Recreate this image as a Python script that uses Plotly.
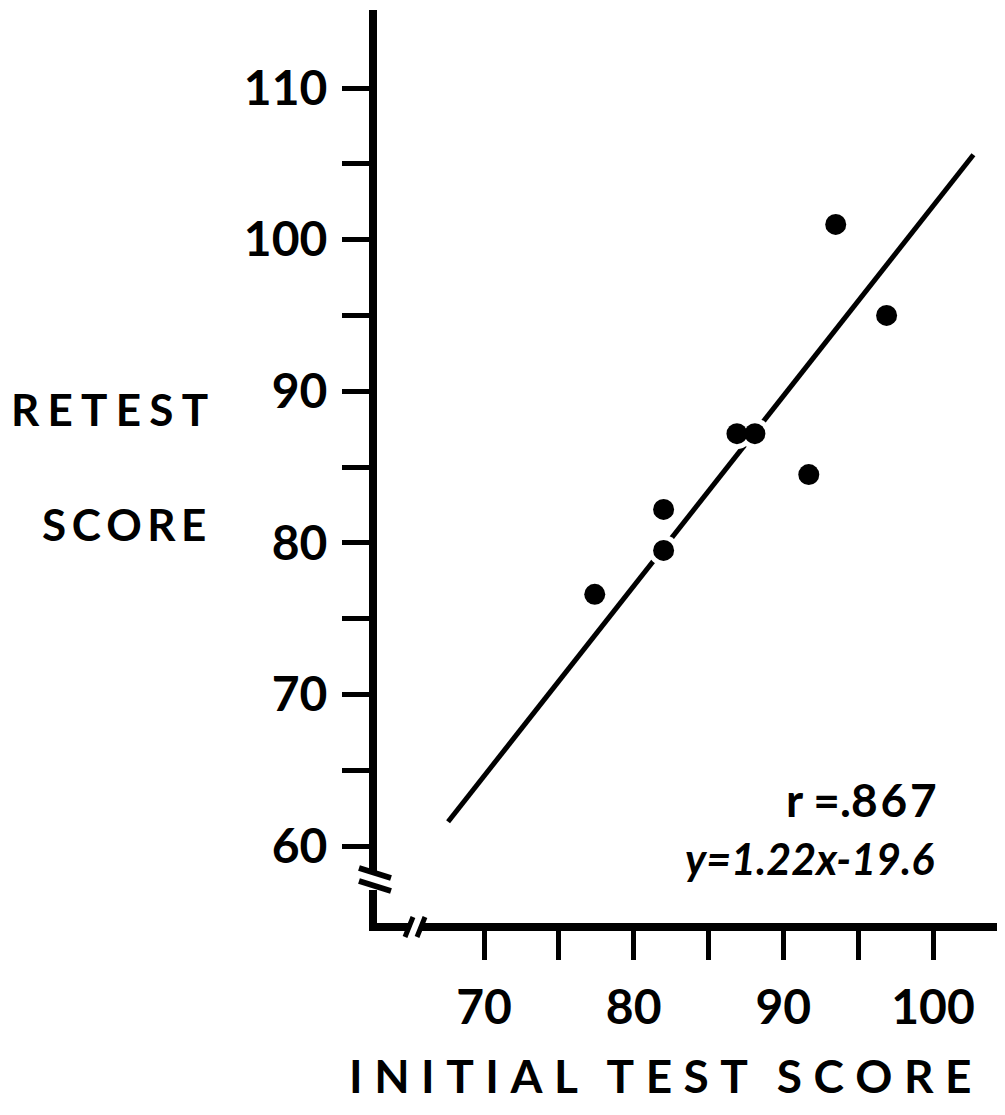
import plotly.graph_objects as go

# ---- data ----
initial_score = [77.4, 82.0, 82.0, 86.9, 88.1, 91.7, 93.5, 96.9]
retest_score = [76.6, 82.2, 79.5, 87.2, 87.2, 84.5, 101.0, 95.0]
fit_x = [67.6, 102.7]
fit_y = [61.6, 105.6]
x_tick_vals = [70, 75, 80, 85, 90, 95, 100]
x_tick_text = ["70", "", "80", "", "90", "", "100"]
y_tick_vals = [60, 65, 70, 75, 80, 85, 90, 95, 100, 105, 110]
y_tick_text = ["60", "", "70", "", "80", "", "90", "", "100", "", "110"]

W, H = 1005, 1115
L, R, T, B = 365, 1005, 2, 919  # plot area in pixels


def px(x):
    return (x - L) / (R - L)


def py(y):
    return (B - y) / (B - T)


FONT = "Lato"
INK = "black"
HS = "\u200a"  # hair space
TS = "\u2009"  # thin space

fig = go.Figure()
fig.add_trace(go.Scatter(x=fit_x, y=fit_y, mode="lines",
                         line=dict(color=INK, width=5), hoverinfo="skip"))
# white halo so the fitted line appears broken around the dots
fig.add_trace(go.Scatter(x=initial_score, y=retest_score, mode="markers",
                         marker=dict(size=31, color="white", line=dict(width=0)),
                         hoverinfo="skip"))
fig.add_trace(go.Scatter(x=initial_score, y=retest_score, mode="markers",
                         marker=dict(size=21, color=INK, line=dict(width=0))))

shapes = []
lw = 8
# y axis with break
shapes.append(dict(type="line", xref="paper", yref="paper", x0=0, x1=0,
                   y0=py(T), y1=py(863), line=dict(color=INK, width=lw)))
shapes.append(dict(type="line", xref="paper", yref="paper", x0=0, x1=0,
                   y0=py(882), y1=py(B + 4), line=dict(color=INK, width=lw)))
for yy in (860, 873):
    shapes.append(dict(type="line", xref="paper", yref="paper",
                       x0=px(L - 14), x1=px(L + 18), y0=py(yy), y1=py(yy + 10),
                       line=dict(color=INK, width=6)))
# x axis with break
shapes.append(dict(type="line", xref="paper", yref="paper", x0=px(L - 4), x1=px(401),
                   y0=0, y1=0, line=dict(color=INK, width=lw)))
shapes.append(dict(type="line", xref="paper", yref="paper", x0=px(413), x1=1,
                   y0=0, y1=0, line=dict(color=INK, width=lw)))
for xx in (397, 409):
    shapes.append(dict(type="line", xref="paper", yref="paper",
                       x0=px(xx), x1=px(xx + 8), y0=py(B + 10), y1=py(B - 10),
                       line=dict(color=INK, width=5)))

annotations = [
    dict(text=(TS + HS).join("RETEST"), x=px(101), y=py(401), font=dict(size=44)),
    dict(text=TS.join("SCORE"), x=px(116), y=py(516), font=dict(size=44)),
    dict(text=("\u2002" + TS).join((TS + HS + HS).join(w) for w in ["INITIAL", "TEST", "SCORE"]),
         x=px(652), y=py(1067), font=dict(size=46)),
    dict(text="r =." + HS.join("867"), x=px(931), y=py(791), xanchor="right",
         font=dict(size=46)),
    dict(text="y=1.22x-19.6", x=px(928), y=py(850), xanchor="right",
         font=dict(size=43, style="italic")),
]
for a in annotations:
    a.update(xref="paper", yref="paper", showarrow=False)
    a.setdefault("xanchor", "center")
    a["yanchor"] = "middle"
    a["font"].update(family=FONT, color=INK, weight="bold")

ppx = (925 - 476) / 30.0
ppy = (838 - 80) / 50.0
x0 = 70 - (476 - L) / ppx
x1 = x0 + (R - L) / ppx
y0 = 60 - (B - 838) / ppy
y1 = y0 + (B - T) / ppy

fig.update_layout(
    width=W, height=H,
    margin=dict(l=L, r=W - R, t=T, b=H - B, pad=0),
    paper_bgcolor="white", plot_bgcolor="white",
    showlegend=False,
    shapes=shapes, annotations=annotations,
    xaxis=dict(range=[x0, x1], showgrid=False, zeroline=False, showline=False,
               tickmode="array", tickvals=x_tick_vals, ticktext=x_tick_text,
               ticks="outside", ticklen=32, tickwidth=5, tickcolor=INK,
               ticklabelstandoff=6,
               tickfont=dict(family=FONT, size=48, color=INK, weight="bold"),
               automargin=False, fixedrange=True),
    yaxis=dict(range=[y0, y1], showgrid=False, zeroline=False, showline=False,
               tickmode="array", tickvals=y_tick_vals, ticktext=y_tick_text,
               ticks="outside", ticklen=30, tickwidth=5, tickcolor=INK,
               ticklabelstandoff=5,
               tickfont=dict(family=FONT, size=48, color=INK, weight="bold"),
               automargin=False, fixedrange=True),
)

fig.write_html("out.html")
